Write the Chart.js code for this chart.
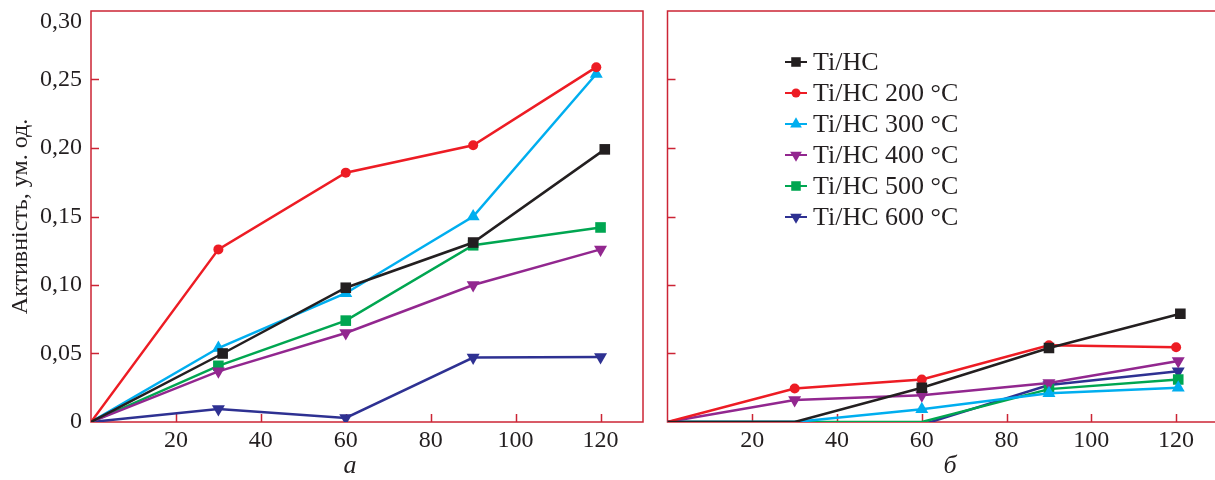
<!DOCTYPE html>
<html>
<head>
<meta charset="utf-8">
<script src="https://cdn.jsdelivr.net/npm/chart.js@4/dist/chart.umd.min.js"></script>
<style>
  html, body { margin: 0; padding: 0; background: #fff; overflow: hidden; }
  #wrap { position: relative; width: 1215px; height: 480px; overflow: hidden; }
  #chart-a { position: absolute; left: 0; top: 0; }
  #chart-b { position: absolute; left: 655px; top: 0; }
</style>
</head>
<body>
<div id="wrap">
  <canvas id="chart-a" width="655" height="480"></canvas>
  <canvas id="chart-b" width="571" height="480"></canvas>
</div>
<script>
const seriesNames = ["Ti/HC", "Ti/HC 200 °C", "Ti/HC 300 °C", "Ti/HC 400 °C", "Ti/HC 500 °C", "Ti/HC 600 °C"];
const xTicks = [20, 40, 60, 80, 100, 120];
const xTickLabels = ["20", "40", "60", "80", "100", "120"];
const yTicks = [0, 0.05, 0.10, 0.15, 0.20, 0.25, 0.30];
const yTickLabels = ["0", "0,05", "0,10", "0,15", "0,20", "0,25", "0,30"];
const yTitle = "Активність, ум. од.";
const panelLabels = ["а", "б"];

// panel а
const aTiHcX = [0, 31, 60, 90, 121];
const aTiHcY = [0, 0.050, 0.098, 0.131, 0.199];
const a200X = [0, 30, 60, 90, 119];
const a200Y = [0, 0.126, 0.182, 0.202, 0.259];
const a300X = [0, 30, 60, 90, 119];
const a300Y = [0, 0.054, 0.094, 0.150, 0.254];
const a400X = [0, 30, 60, 90, 120];
const a400Y = [0, 0.037, 0.065, 0.100, 0.126];
const a500X = [0, 30, 60, 90, 120];
const a500Y = [0, 0.041, 0.074, 0.129, 0.142];
const a600X = [0, 30, 60, 90, 120];
const a600Y = [0, 0.0095, 0.003, 0.047, 0.0475];

// panel б
const bTiHcX = [0, 30, 60, 90, 121];
const bTiHcY = [0, 0, 0.025, 0.054, 0.079];
const b200X = [0, 30, 60, 90, 120];
const b200Y = [0, 0.0245, 0.031, 0.056, 0.0545];
const b300X = [0, 30, 60, 90, 120.5];
const b300Y = [0, 0, 0.0093, 0.021, 0.025];
const b400X = [0, 30, 60, 90, 120.5];
const b400Y = [0, 0.016, 0.0195, 0.0285, 0.0445];
const b500X = [0, 30, 60, 90, 120.5];
const b500Y = [0, 0, 0, 0.024, 0.031];
const b600X = [0, 30, 60, 90, 120.5];
const b600Y = [0, 0, -0.002, 0.027, 0.037];

const colors = ["#231f20", "#ed1c24", "#00aeef", "#92278f", "#00a651", "#2e3192"];
const markers = [
  { style: "rect", radius: 7.5, rotation: 0 },
  { style: "circle", radius: 5, rotation: 0 },
  { style: "triangle", radius: 7.5, rotation: 0 },
  { style: "triangle", radius: 7.5, rotation: 180 },
  { style: "rect", radius: 7.5, rotation: 0 },
  { style: "triangle", radius: 7.5, rotation: 180 },
];
const frameColor = "#cc2435";
const serif = "'Liberation Serif', 'DejaVu Serif', serif";

function toPoints(xs, ys) {
  return xs.map((x, i) => ({ x, y: ys[i] }));
}

function makeDatasets(series) {
  return series.map(([xs, ys], i) => ({
    label: seriesNames[i],
    data: toPoints(xs, ys),
    showLine: true,
    borderColor: colors[i],
    backgroundColor: colors[i],
    borderWidth: 2.5,
    pointStyle: markers[i].style,
    pointRotation: markers[i].rotation,
    pointBorderWidth: 0,
    pointRadius: (ctx) => (ctx.raw && ctx.raw.y > 0.001 ? markers[i].radius : 0),
    pointHoverRadius: 0,
  }));
}

// frame + inward ticks, drawn under the lines
const framePlugin = {
  id: "frame",
  beforeDatasetsDraw(chart) {
    const { ctx, chartArea: a, scales } = chart;
    ctx.save();
    ctx.strokeStyle = frameColor;
    ctx.lineWidth = 1.5;
    ctx.strokeRect(a.left, a.top, a.right - a.left, a.bottom - a.top);
    ctx.beginPath();
    xTicks.forEach((v) => {
      const px = Math.round(scales.x.getPixelForValue(v)) + 0.5;
      ctx.moveTo(px, a.bottom);
      ctx.lineTo(px, a.bottom - 8);
    });
    yTicks.slice(1, -1).forEach((v) => {
      const py = Math.round(scales.y.getPixelForValue(v)) + 0.5;
      ctx.moveTo(a.left, py);
      ctx.lineTo(a.left + 8, py);
    });
    ctx.stroke();
    ctx.restore();
  },
};

function textPlugin(label, labelX, withTitle) {
  return {
    id: "texts",
    afterDraw(chart) {
      const ctx = chart.ctx;
      ctx.save();
      ctx.fillStyle = "#231f20";
      ctx.font = `italic 26px ${serif}`;
      ctx.textAlign = "center";
      ctx.textBaseline = "alphabetic";
      ctx.fillText(label, labelX, 473);
      if (withTitle) {
        ctx.translate(21, 216.5);
        ctx.rotate(-Math.PI / 2);
        ctx.font = `24px ${serif}`;
        ctx.textBaseline = "middle";
        ctx.fillText(yTitle, 0, 0);
      }
      ctx.restore();
    },
  };
}

const legendPlugin = {
  id: "lineLegend",
  afterDraw(chart) {
    const ctx = chart.ctx;
    ctx.save();
    chart.data.datasets.forEach((ds, i) => {
      const y = 62 + i * 31;
      ctx.strokeStyle = colors[i];
      ctx.fillStyle = colors[i];
      ctx.lineWidth = 2;
      ctx.beginPath();
      ctx.moveTo(130, y);
      ctx.lineTo(152, y);
      ctx.stroke();
      Chart.helpers.drawPoint(ctx, {
        pointStyle: markers[i].style,
        rotation: markers[i].rotation,
        radius: markers[i].radius * 0.9,
        borderWidth: 0,
      }, 141, y);
      ctx.fillStyle = "#231f20";
      ctx.font = `26px ${serif}`;
      ctx.textAlign = "left";
      ctx.textBaseline = "middle";
      ctx.fillText(ds.label, 158, y + 1);
    });
    ctx.restore();
  },
};

function makeOptions(left, rightPad, showY) {
  return {
    responsive: false,
    animation: false,
    layout: { padding: { top: 11, right: rightPad, left: 0, bottom: 0 } },
    plugins: { legend: { display: false }, tooltip: { enabled: false } },
    scales: {
      x: {
        type: "linear",
        min: 0,
        max: 130,
        afterBuildTicks: (s) => { s.ticks = xTicks.map((v) => ({ value: v })); },
        afterFit: (s) => { s.height = 58; s.paddingLeft = 0; s.paddingRight = 0; },
        grid: { display: false, drawTicks: false },
        border: { display: false },
        ticks: {
          padding: 4,
          color: "#231f20",
          font: { family: serif, size: 24 },
          callback: (v) => xTickLabels[xTicks.indexOf(v)] ?? "",
        },
      },
      y: {
        min: 0,
        max: 0.30,
        afterBuildTicks: (s) => { s.ticks = yTicks.map((v) => ({ value: v })); },
        afterFit: (s) => { s.width = left; s.paddingTop = 0; s.paddingBottom = 0; },
        grid: { display: false, drawTicks: false },
        border: { display: false },
        ticks: {
          display: showY,
          padding: 9,
          color: "#231f20",
          font: { family: serif, size: 24, lineHeight: 0.9 },
          // top label sits a little below its tick in the original
          callback: (v, i) => (i === yTicks.length - 1 ? ["", yTickLabels[i]] : yTickLabels[i]),
        },
      },
    },
  };
}

new Chart(document.getElementById("chart-a"), {
  type: "scatter",
  data: {
    datasets: makeDatasets([
      [aTiHcX, aTiHcY], [a200X, a200Y], [a300X, a300Y],
      [a400X, a400Y], [a500X, a500Y], [a600X, a600Y],
    ]),
  },
  options: makeOptions(91, 12, true),
  plugins: [framePlugin, textPlugin(panelLabels[0], 350, true)],
});

new Chart(document.getElementById("chart-b"), {
  type: "scatter",
  data: {
    datasets: makeDatasets([
      [bTiHcX, bTiHcY], [b200X, b200Y], [b300X, b300Y],
      [b400X, b400Y], [b500X, b500Y], [b600X, b600Y],
    ]),
  },
  options: makeOptions(12.5, 2, false),
  plugins: [framePlugin, textPlugin(panelLabels[1], 295, false), legendPlugin],
});
</script>
</body>
</html>
